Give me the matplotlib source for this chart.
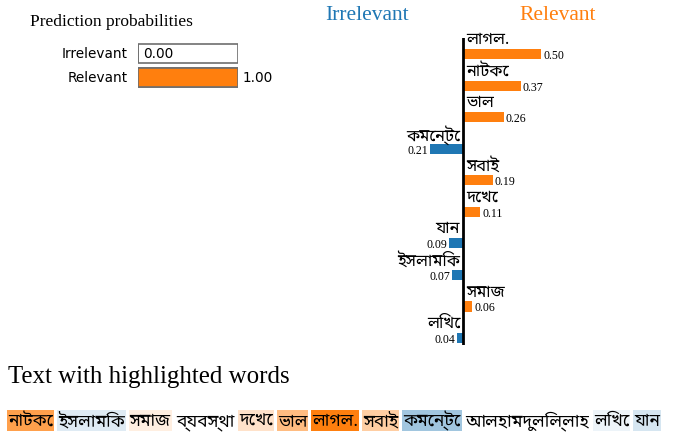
import matplotlib
matplotlib.use("Agg")
import matplotlib.pyplot as plt
from matplotlib.patches import Rectangle

W, H = 674, 436
BLUE = "#1f77b4"
ORANGE = "#ff7f0e"
BENGALI = ["Noto Sans Bengali", "DejaVu Sans"]
SERIF = "Liberation Serif"

# prediction probabilities
class_names = ["Irrelevant", "Relevant"]
probs = [0.00, 1.00]
prob_colors = ["white", ORANGE]

# explanation (feature weights, sorted by magnitude)
features = ["লাগল.", "নাটকে", "ভাল", "কমেন্টে", "সবাই", "দেখে", "যান", "ইসলামিক", "সমাজ", "লিখে"]
weights = [0.50, 0.37, 0.26, -0.21, 0.19, 0.11, -0.09, -0.07, 0.06, -0.04]

# the text of the document
words = ["নাটকে", "ইসলামিক", "সমাজ", "ব্যবস্থা", "দেখে", "ভাল", "লাগল.", "সবাই", "কমেন্টে",
         "আলহামদুলিল্লাহ", "লিখে", "যান"]


def fx(x):
    return x / W


def fy(y):
    return 1 - y / H


def px_axes(left, top, right, bottom):
    return fig.add_axes([fx(left), fy(bottom), (right - left) / W, (bottom - top) / H])


fig = plt.figure(figsize=(W / 100, H / 100), dpi=100)

# ---- prediction probabilities ----
fig.text(fx(30), fy(22), "Prediction probabilities", family=SERIF, fontsize=12.5, va="center")
ax_p = px_axes(138, 41.5, 238, 89.5)
ypos = list(range(len(class_names)))
ax_p.barh(ypos, [1.0] * len(ypos), height=0.79, color="white", edgecolor="#6e6e6e", linewidth=1.2)
ax_p.barh(ypos, probs, height=0.79, color=prob_colors, edgecolor="#6e6e6e", linewidth=1.2)
ax_p.set_xlim(0, 1)
ax_p.set_ylim(1.5, -0.5)
ax_p.axis("off")
for y, name, p in zip(ypos, class_names, probs):
    ax_p.annotate(name, xy=(0, y), xytext=(-10, 0), textcoords="offset pixels",
                  ha="right", va="center", fontsize=9.8, family="DejaVu Sans")
    ax_p.annotate(f"{p:.2f}", xy=(p, y), xytext=(5, 0), textcoords="offset pixels",
                  ha="left", va="center", fontsize=9.8, family="DejaVu Sans")

# ---- explanation ----
fig.text(fx(367), fy(16), class_names[0], family=SERIF, fontsize=15.5, color=BLUE, ha="center", va="center")
fig.text(fx(558), fy(16), class_names[1], family=SERIF, fontsize=15.5, color=ORANGE, ha="center", va="center")

ax_e = px_axes(400.6, 38, 556.6, 345)
rows = list(range(len(features)))
bar_colors = [ORANGE if w > 0 else BLUE for w in weights]
ax_e.barh(rows, weights, height=0.32, color=bar_colors)
ax_e.axvline(0, color="black", linewidth=2)
ax_e.set_xlim(-0.4, 0.6)
ax_e.set_ylim(9.22, -0.507)
ax_e.axis("off")
for r, name, w in zip(rows, features, weights):
    side = 1 if w > 0 else -1
    ha = "left" if w > 0 else "right"
    ax_e.annotate(name, xy=(0, r), xytext=(3 * side, 14), textcoords="offset pixels",
                  ha=ha, va="center", fontsize=11.8, family=BENGALI)
    ax_e.annotate(f"{abs(w):.2f}", xy=(w, r), xytext=(2 * side, -2), textcoords="offset pixels",
                  ha=ha, va="center", fontsize=8.6, family=SERIF)

# ---- text with highlighted words ----
fig.text(fx(8), fy(377), "Text with highlighted words", family=SERIF, fontsize=17.9, va="center")

weight_of = dict(zip(features, weights))
max_w = max(abs(w) for w in weights)
renderer = fig.canvas.get_renderer()


def layout(size):
    x = 8
    placed = []
    for word in words:
        t = fig.text(fx(x), fy(426), word, family=BENGALI, fontsize=size, va="baseline", zorder=3)
        bb = t.get_window_extent(renderer)
        placed.append((t, bb))
        x = bb.x1 + 5
    return placed, x - 5


size = 11
placed, end = layout(size)
scale = (668 - 8) / (end - 8)
for t, _ in placed:
    t.remove()
placed, end = layout(size * scale)

for (t, bb), word in zip(placed, words):
    w = weight_of.get(word, 0.0)
    if w == 0:
        continue
    color = ORANGE if w > 0 else BLUE
    fig.patches.append(Rectangle((fx(bb.x0 - 1), fy(431)), (bb.width + 2) / W, 21 / H,
                                 transform=fig.transFigure, facecolor=color,
                                 alpha=abs(w) / max_w, edgecolor="none", zorder=1))

fig.savefig("out.png", dpi=100)
